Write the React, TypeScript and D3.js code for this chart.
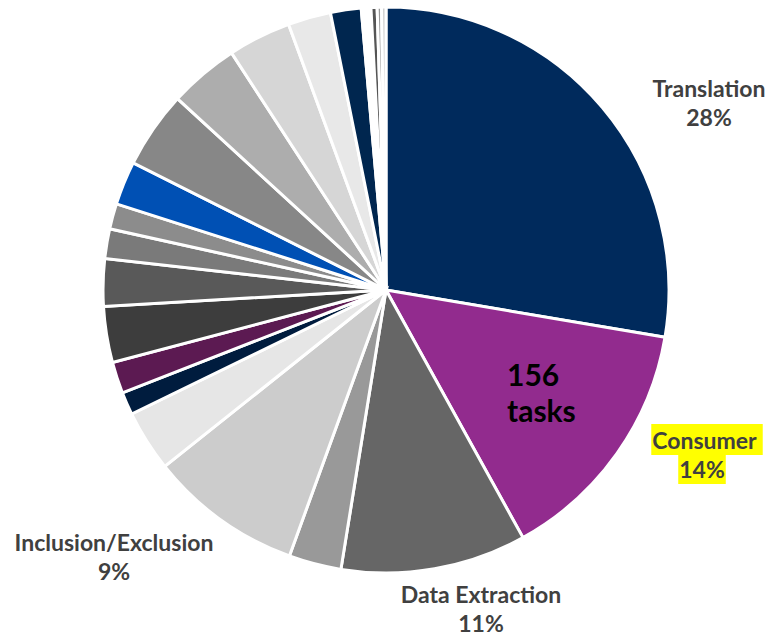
import React, { useEffect, useRef } from "react";
import * as d3 from "d3";

// slice categories and shares (percent), clockwise from 12 o'clock
const categories = [
  "Translation", "Consumer", "Data Extraction", "Other A", "Inclusion/Exclusion",
  "Other B", "Other C", "Other D", "Other E", "Other F", "Other G", "Other H",
  "Other I", "Other J", "Other K", "Other L", "Other M", "Other N", "Other O",
  "Other P", "Other Q", "Other R",
];
const values = [
  27.7, 14.3, 10.6, 3.0, 8.75,
  3.5, 1.3, 1.8, 3.2, 2.7, 1.7, 1.45,
  2.5, 4.4, 4.0, 3.6, 2.45, 1.75, 0.55,
  0.35, 0.25, 0.25,
];
const colors = [
  "#002a5c", "#922b8e", "#666666", "#999999", "#cccccc",
  "#e6e6e6", "#001c3e", "#5c1a52", "#3d3d3d", "#595959", "#7a7a7a", "#8c8c8c",
  "#0050b4", "#878787", "#adadad", "#d6d6d6", "#e8e8e8", "#00264f", "#ffffff",
  "#555555", "#999999", "#cccccc",
];
// outside labels
const labelNames = ["Translation", "Consumer", "Data Extraction", "Inclusion/Exclusion"];
const labelPcts = ["28%", "14%", "11%", "9%"];
const labelHighlight = [false, true, false, false];
const centerLines = ["156", "tasks"];

export default function App() {
  const ref = useRef<SVGSVGElement>(null);

  useEffect(() => {
    const svg = d3.select(ref.current);
    svg.selectAll("*").remove();
    const W = 771, H = 635;
    const cx = 386, cy = 290, r = 283;

    const pie = d3.pie<number>().sort(null).value((d) => d);
    const arc = d3.arc<d3.PieArcDatum<number>>().innerRadius(0).outerRadius(r);
    const g = svg.append("g").attr("transform", `translate(${cx},${cy})`);
    g.selectAll("path")
      .data(pie(values))
      .join("path")
      .attr("d", arc)
      .attr("fill", (_, i) => colors[i])
      .attr("stroke", "#ffffff")
      .attr("stroke-width", 3)
      .attr("stroke-linejoin", "miter");

    const font = "Lato, 'Open Sans', sans-serif";
    // label anchors (centre x, first baseline)
    const anchors: [number, number][] = [[709, 97], [707, 449], [481, 603], [114, 551]];
    const pctX = [709, 702, 481, 114];
    labelNames.forEach((name, i) => {
      const [x, y] = anchors[i];
      const lg = svg.append("g");
      const t1 = lg.append("text")
        .attr("x", x).attr("y", y)
        .attr("text-anchor", "middle")
        .attr("font-family", font).attr("font-weight", 700).attr("font-size", 23)
        .attr("fill", "#404040")
        .text(labelHighlight[i] ? name + "\u00a0" : name);
      const t2 = lg.append("text")
        .attr("x", pctX[i]).attr("y", y + 29)
        .attr("text-anchor", "middle")
        .attr("font-family", font).attr("font-weight", 700).attr("font-size", 23)
        .attr("fill", "#404040")
        .text(labelPcts[i]);
      if (labelHighlight[i]) {
        [t1, t2].forEach((t) => {
          const b = (t.node() as SVGTextElement).getBBox();
          lg.insert("rect", "text")
            .attr("x", b.x - 1).attr("y", b.y - 2)
            .attr("width", b.width + 2).attr("height", 31)
            .attr("fill", "#ffff00");
        });
      }
    });

    centerLines.forEach((line, i) => {
      svg.append("text")
        .attr("x", 507).attr("y", 386 + i * 36)
        .attr("font-family", font).attr("font-weight", 700).attr("font-size", 30)
        .attr("fill", "#000000")
        .text(line);
    });
    svg.attr("width", W).attr("height", H);
  }, []);

  return (
    <svg
      ref={ref}
      width={771}
      height={635}
      style={{ position: "absolute", left: 0, top: 0, background: "#ffffff" }}
    />
  );
}
